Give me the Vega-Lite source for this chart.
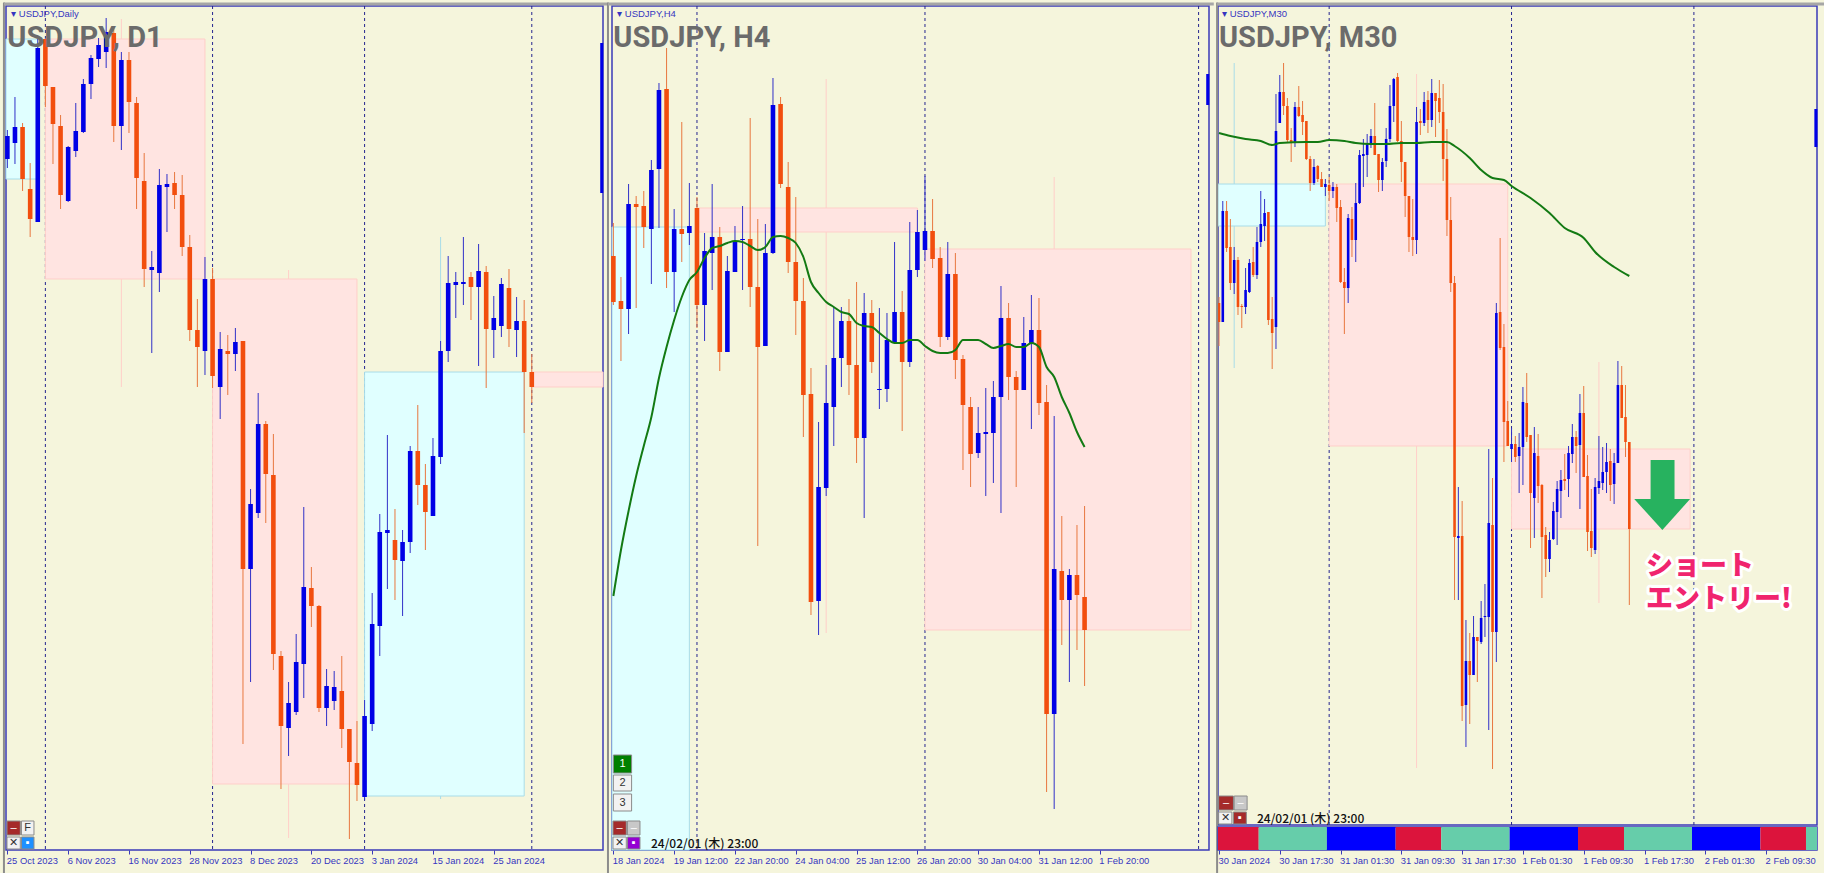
{
"$schema":"https://vega.github.io/schema/vega-lite/v6.json",
"padding":{"left":1,"top":0,"right":0,"bottom":0},
"background":"#F5F5DC",
"bounds":"flush",
"spacing":9,
"config":{"view":{"stroke":"#3A3AB8","fill":"#F5F5DC","strokeWidth":1.5},"axis":{"title":null,"grid":false,"domain":false,"tickColor":"#3A3AB8","tickSize":4,"labelColor":"#3535C0","labelFont":"Liberation Sans","labelFontSize":9.4,"labelAlign":"left","labelBaseline":"top","labelPadding":2,"labelOffset":-1,"labelOverlap":false,"labelBound":false,"labelFlush":false}},
"datasets":{
"d1":[{"i":0,"o":691,"c":714,"h":720,"l":682},{"i":1,"o":707,"c":723,"h":753,"l":686},{"i":2,"o":723,"c":671,"h":727,"l":659},{"i":3,"o":661,"c":631,"h":687,"l":613},{"i":4,"o":628,"c":802,"h":811,"l":628},{"i":5,"o":811,"c":764,"h":811,"l":743},{"i":6,"o":763,"c":726,"h":763,"l":686},{"i":7,"o":724,"c":655,"h":735,"l":641},{"i":8,"o":649,"c":703,"h":704,"l":648},{"i":9,"o":699,"c":719,"h":747,"l":693},{"i":10,"o":718,"c":766,"h":771,"l":717},{"i":11,"o":766,"c":792,"h":795,"l":751},{"i":12,"o":791,"c":805,"h":812,"l":783},{"i":13,"o":798,"c":818,"h":832,"l":782},{"i":14,"o":817,"c":724,"h":823,"l":708},{"i":15,"o":724,"c":790,"h":798,"l":700},{"i":16,"o":790,"c":748,"h":798,"l":717},{"i":17,"o":747,"c":672,"h":753,"l":641},{"i":18,"o":669,"c":581,"h":697,"l":563},{"i":19,"o":580,"c":583,"h":599,"l":497},{"i":20,"o":577,"c":665,"h":681,"l":558},{"i":21,"o":663,"c":666,"h":676,"l":618},{"i":22,"o":667,"c":655,"h":678,"l":641},{"i":23,"o":655,"c":603,"h":675,"l":594},{"i":24,"o":603,"c":520,"h":615,"l":509},{"i":25,"o":520,"c":503,"h":551,"l":463},{"i":26,"o":499,"c":571,"h":593,"l":475},{"i":27,"o":571,"c":474,"h":582,"l":462},{"i":28,"o":463,"c":501,"h":518,"l":431},{"i":29,"o":499,"c":496,"h":515,"l":455},{"i":30,"o":496,"c":508,"h":522,"l":479},{"i":31,"o":509,"c":281,"h":509,"l":106},{"i":32,"o":281,"c":346,"h":361,"l":168},{"i":33,"o":337,"c":426,"h":457,"l":332},{"i":34,"o":426,"c":376,"h":429,"l":327},{"i":35,"o":375,"c":196,"h":416,"l":180},{"i":36,"o":194,"c":124,"h":199,"l":61},{"i":37,"o":122,"c":147,"h":168,"l":94},{"i":38,"o":138,"c":188,"h":216,"l":135},{"i":39,"o":186,"c":263,"h":343,"l":152},{"i":40,"o":262,"c":244,"h":283,"l":223},{"i":41,"o":244,"c":142,"h":245,"l":138},{"i":42,"o":142,"c":164,"h":181,"l":124},{"i":43,"o":149,"c":163,"h":179,"l":140},{"i":44,"o":159,"c":121,"h":194,"l":102},{"i":45,"o":121,"c":88,"h":121,"l":11},{"i":46,"o":87,"c":65,"h":129,"l":49},{"i":47,"o":53,"c":134,"h":150,"l":50},{"i":48,"o":126,"c":226,"h":257,"l":119},{"i":49,"o":224,"c":318,"h":336,"l":194},{"i":50,"o":317,"c":320,"h":415,"l":261},{"i":51,"o":310,"c":290,"h":341,"l":250},{"i":52,"o":289,"c":308,"h":320,"l":234},{"i":53,"o":308,"c":399,"h":404,"l":297},{"i":54,"o":399,"c":365,"h":445,"l":345},{"i":55,"o":365,"c":338,"h":386,"l":300},{"i":56,"o":334,"c":394,"h":412,"l":334},{"i":57,"o":393,"c":499,"h":509,"l":386},{"i":58,"o":499,"c":567,"h":594,"l":488},{"i":59,"o":565,"c":568,"h":578,"l":532},{"i":60,"o":566,"c":568,"h":613,"l":545},{"i":61,"o":573,"c":563,"h":578,"l":530},{"i":62,"o":563,"c":579,"h":606,"l":484},{"i":63,"o":578,"c":521,"h":584,"l":462},{"i":64,"o":520,"c":532,"h":554,"l":492},{"i":65,"o":524,"c":566,"h":572,"l":513},{"i":66,"o":562,"c":521,"h":581,"l":503},{"i":67,"o":520,"c":529,"h":553,"l":493},{"i":68,"o":529,"c":478,"h":550,"l":417},{"i":69,"o":478,"c":463,"h":496,"l":447}],
"h4":[{"i":0,"o":594,"c":548,"h":627,"l":545},{"i":1,"o":549,"c":541,"h":573,"l":489},{"i":2,"o":541,"c":646,"h":666,"l":516},{"i":3,"o":646,"c":643,"h":654,"l":542},{"i":4,"o":644,"c":623,"h":659,"l":602},{"i":5,"o":621,"c":680,"h":690,"l":566},{"i":6,"o":681,"c":760,"h":767,"l":622},{"i":7,"o":761,"c":578,"h":802,"l":562},{"i":8,"o":578,"c":621,"h":641,"l":538},{"i":9,"o":621,"c":616,"h":728,"l":588},{"i":10,"o":617,"c":624,"h":667,"l":605},{"i":11,"o":642,"c":545,"h":653,"l":522},{"i":12,"o":545,"c":599,"h":617,"l":509},{"i":13,"o":597,"c":613,"h":666,"l":560},{"i":14,"o":613,"c":498,"h":623,"l":479},{"i":15,"o":498,"c":579,"h":594,"l":498},{"i":16,"o":578,"c":608,"h":624,"l":578},{"i":17,"o":610,"c":611,"h":644,"l":560},{"i":18,"o":611,"c":563,"h":732,"l":543},{"i":19,"o":563,"c":503,"h":631,"l":304},{"i":20,"o":504,"c":597,"h":626,"l":504},{"i":21,"o":597,"c":745,"h":772,"l":596},{"i":22,"o":746,"c":666,"h":753,"l":662},{"i":23,"o":663,"c":588,"h":688,"l":577},{"i":24,"o":588,"c":549,"h":653,"l":515},{"i":25,"o":549,"c":455,"h":572,"l":413},{"i":26,"o":456,"c":248,"h":482,"l":235},{"i":27,"o":249,"c":363,"h":428,"l":215},{"i":28,"o":362,"c":447,"h":485,"l":354},{"i":29,"o":443,"c":492,"h":543,"l":404},{"i":30,"o":492,"c":529,"h":543,"l":463},{"i":31,"o":529,"c":485,"h":551,"l":455},{"i":32,"o":485,"c":412,"h":568,"l":387},{"i":33,"o":412,"c":537,"h":557,"l":332},{"i":34,"o":537,"c":488,"h":550,"l":477},{"i":35,"o":460,"c":461,"h":542,"l":441},{"i":36,"o":461,"c":510,"h":537,"l":448},{"i":37,"o":508,"c":538,"h":608,"l":508},{"i":38,"o":538,"c":488,"h":559,"l":419},{"i":39,"o":488,"c":580,"h":628,"l":483},{"i":40,"o":580,"c":618,"h":640,"l":573},{"i":41,"o":600,"c":619,"h":674,"l":589},{"i":42,"o":619,"c":591,"h":651,"l":582},{"i":43,"o":592,"c":513,"h":603,"l":503},{"i":44,"o":513,"c":576,"h":608,"l":510},{"i":45,"o":576,"c":490,"h":597,"l":471},{"i":46,"o":491,"c":445,"h":495,"l":380},{"i":47,"o":443,"c":396,"h":453,"l":363},{"i":48,"o":397,"c":417,"h":443,"l":392},{"i":49,"o":416,"c":418,"h":462,"l":354},{"i":50,"o":417,"c":453,"h":469,"l":367},{"i":51,"o":453,"c":532,"h":564,"l":337},{"i":52,"o":532,"c":473,"h":547,"l":450},{"i":53,"o":473,"c":460,"h":479,"l":363},{"i":54,"o":460,"c":507,"h":533,"l":460},{"i":55,"o":507,"c":520,"h":555,"l":421},{"i":56,"o":520,"c":447,"h":552,"l":435},{"i":57,"o":448,"c":136,"h":465,"l":58},{"i":58,"o":136,"c":281,"h":434,"l":41},{"i":59,"o":279,"c":250,"h":334,"l":205},{"i":60,"o":250,"c":275,"h":281,"l":168},{"i":61,"o":275,"c":255,"h":325,"l":200},{"i":62,"o":253,"c":220,"h":344,"l":164}],
"m30":[{"i":0,"o":547,"c":528,"h":553,"l":504},{"i":1,"o":528,"c":639,"h":649,"l":528},{"i":2,"o":639,"c":602,"h":649,"l":598},{"i":3,"o":603,"c":567,"h":631,"l":560},{"i":4,"o":567,"c":590,"h":603,"l":556},{"i":5,"o":590,"c":543,"h":593,"l":535},{"i":6,"o":544,"c":543,"h":546,"l":522},{"i":7,"o":543,"c":560,"h":582,"l":536},{"i":8,"o":558,"c":587,"h":591,"l":557},{"i":9,"o":588,"c":575,"h":603,"l":573},{"i":10,"o":575,"c":608,"h":623,"l":571},{"i":11,"o":608,"c":626,"h":659,"l":603},{"i":12,"o":624,"c":637,"h":651,"l":609},{"i":13,"o":638,"c":530,"h":638,"l":525},{"i":14,"o":531,"c":517,"h":553,"l":481},{"i":15,"o":523,"c":719,"h":756,"l":501},{"i":16,"o":727,"c":758,"h":775,"l":727},{"i":17,"o":758,"c":744,"h":787,"l":735},{"i":18,"o":744,"c":710,"h":752,"l":708},{"i":19,"o":710,"c":707,"h":722,"l":688},{"i":20,"o":707,"c":743,"h":748,"l":703},{"i":21,"o":743,"c":734,"h":764,"l":733},{"i":22,"o":735,"c":728,"h":749,"l":715},{"i":23,"o":729,"c":691,"h":729,"l":690},{"i":24,"o":691,"c":667,"h":694,"l":659},{"i":25,"o":667,"c":683,"h":691,"l":665},{"i":26,"o":684,"c":671,"h":685,"l":668},{"i":27,"o":671,"c":663,"h":678,"l":663},{"i":28,"o":663,"c":666,"h":671,"l":654},{"i":29,"o":665,"c":659,"h":673,"l":649},{"i":30,"o":659,"c":663,"h":668,"l":652},{"i":31,"o":663,"c":642,"h":666,"l":628},{"i":32,"o":643,"c":568,"h":650,"l":567},{"i":33,"o":568,"c":562,"h":582,"l":516},{"i":34,"o":562,"c":632,"h":636,"l":547},{"i":35,"o":631,"c":610,"h":643,"l":593},{"i":36,"o":610,"c":647,"h":667,"l":588},{"i":37,"o":647,"c":695,"h":700,"l":646},{"i":38,"o":694,"c":696,"h":711,"l":663},{"i":39,"o":695,"c":706,"h":716,"l":673},{"i":40,"o":707,"c":714,"h":721,"l":702},{"i":41,"o":714,"c":695,"h":747,"l":695},{"i":42,"o":696,"c":670,"h":696,"l":658},{"i":43,"o":670,"c":688,"h":692,"l":659},{"i":44,"o":689,"c":711,"h":722,"l":683},{"i":45,"o":711,"c":744,"h":765,"l":708},{"i":46,"o":744,"c":771,"h":772,"l":728},{"i":47,"o":773,"c":709,"h":777,"l":708},{"i":48,"o":709,"c":688,"h":729,"l":668},{"i":49,"o":688,"c":654,"h":688,"l":633},{"i":50,"o":654,"c":613,"h":654,"l":598},{"i":51,"o":613,"c":610,"h":651,"l":594},{"i":52,"o":610,"c":728,"h":743,"l":596},{"i":53,"o":729,"c":727,"h":741,"l":715},{"i":54,"o":727,"c":748,"h":758,"l":724},{"i":55,"o":750,"c":730,"h":759,"l":717},{"i":56,"o":730,"c":757,"h":771,"l":723},{"i":57,"o":757,"c":749,"h":757,"l":713},{"i":58,"o":752,"c":738,"h":770,"l":727},{"i":59,"o":738,"c":691,"h":766,"l":669},{"i":60,"o":691,"c":630,"h":721,"l":614},{"i":61,"o":630,"c":567,"h":653,"l":558},{"i":62,"o":567,"c":313,"h":574,"l":250},{"i":63,"o":312,"c":314,"h":363,"l":250},{"i":64,"o":314,"c":144,"h":349,"l":129},{"i":65,"o":145,"c":189,"h":230,"l":103},{"i":66,"o":189,"c":175,"h":217,"l":126},{"i":67,"o":175,"c":213,"h":234,"l":175},{"i":68,"o":213,"c":209,"h":213,"l":168},{"i":69,"o":208,"c":232,"h":249,"l":206},{"i":70,"o":233,"c":234,"h":266,"l":213},{"i":71,"o":233,"c":327,"h":401,"l":120},{"i":72,"o":325,"c":218,"h":372,"l":81},{"i":73,"o":218,"c":537,"h":547,"l":188},{"i":74,"o":538,"c":502,"h":612,"l":500},{"i":75,"o":503,"c":428,"h":526,"l":388},{"i":76,"o":429,"c":404,"h":449,"l":404},{"i":77,"o":401,"c":406,"h":422,"l":388},{"i":78,"o":406,"c":393,"h":414,"l":388},{"i":79,"o":394,"c":403,"h":417,"l":357},{"i":80,"o":403,"c":448,"h":463,"l":365},{"i":81,"o":447,"c":413,"h":477,"l":408},{"i":82,"o":415,"c":357,"h":415,"l":302},{"i":83,"o":352,"c":397,"h":423,"l":312},{"i":84,"o":394,"c":364,"h":416,"l":347},{"i":85,"o":365,"c":313,"h":366,"l":252},{"i":86,"o":315,"c":291,"h":323,"l":273},{"i":87,"o":291,"c":310,"h":318,"l":278},{"i":88,"o":311,"c":339,"h":348,"l":310},{"i":89,"o":338,"c":361,"h":369,"l":305},{"i":90,"o":359,"c":370,"h":380,"l":332},{"i":91,"o":371,"c":369,"h":396,"l":360},{"i":92,"o":371,"c":397,"h":404,"l":353},{"i":93,"o":396,"c":413,"h":426,"l":387},{"i":94,"o":413,"c":404,"h":419,"l":377},{"i":95,"o":405,"c":437,"h":456,"l":341},{"i":96,"o":437,"c":373,"h":464,"l":373},{"i":97,"o":374,"c":318,"h":395,"l":299},{"i":98,"o":319,"c":302,"h":361,"l":293},{"i":99,"o":300,"c":363,"h":372,"l":296},{"i":100,"o":362,"c":369,"h":414,"l":356},{"i":101,"o":367,"c":378,"h":403,"l":360},{"i":102,"o":378,"c":388,"h":407,"l":357},{"i":103,"o":389,"c":365,"h":401,"l":349},{"i":104,"o":366,"c":387,"h":397,"l":346},{"i":105,"o":387,"c":465,"h":489,"l":387},{"i":106,"o":465,"c":432,"h":484,"l":432},{"i":107,"o":433,"c":408,"h":465,"l":393},{"i":108,"o":408,"c":321,"h":408,"l":245}],
"ma4":[{"i":0,"v":254},{"i":1,"v":300},{"i":2,"v":339},{"i":3,"v":374},{"i":4,"v":404},{"i":5,"v":433},{"i":6,"v":472},{"i":7,"v":503},{"i":8,"v":530},{"i":9,"v":553},{"i":10,"v":570},{"i":11,"v":578},{"i":12,"v":592},{"i":13,"v":602},{"i":14,"v":604},{"i":15,"v":607},{"i":16,"v":609},{"i":17,"v":608},{"i":18,"v":604},{"i":19,"v":600},{"i":20,"v":603},{"i":21,"v":613},{"i":22,"v":614},{"i":23,"v":612},{"i":24,"v":607},{"i":25,"v":593},{"i":26,"v":568},{"i":27,"v":557},{"i":28,"v":548},{"i":29,"v":543},{"i":30,"v":538},{"i":31,"v":536},{"i":32,"v":527},{"i":33,"v":524},{"i":34,"v":523},{"i":35,"v":517},{"i":36,"v":511},{"i":37,"v":507},{"i":38,"v":507},{"i":39,"v":510},{"i":40,"v":510},{"i":41,"v":504},{"i":42,"v":499},{"i":43,"v":497},{"i":44,"v":497},{"i":45,"v":500},{"i":46,"v":510},{"i":47,"v":510},{"i":48,"v":510},{"i":49,"v":506},{"i":50,"v":502},{"i":51,"v":504},{"i":52,"v":506},{"i":53,"v":503},{"i":54,"v":503},{"i":55,"v":507},{"i":56,"v":503},{"i":57,"v":483},{"i":58,"v":473},{"i":59,"v":453},{"i":60,"v":437},{"i":61,"v":418},{"i":62,"v":403}],
"ma30":[{"i":0,"v":717},{"i":3,"v":714},{"i":7,"v":711},{"i":11,"v":709},{"i":14,"v":705},{"i":16,"v":707},{"i":23,"v":708},{"i":26,"v":708},{"i":29,"v":710},{"i":33,"v":709},{"i":36,"v":707},{"i":40,"v":706},{"i":44,"v":706},{"i":48,"v":707},{"i":52,"v":707},{"i":56,"v":708},{"i":60,"v":708},{"i":62,"v":704},{"i":66,"v":692},{"i":69,"v":680},{"i":72,"v":672},{"i":75,"v":670},{"i":77,"v":664},{"i":82,"v":652},{"i":87,"v":637},{"i":91,"v":622},{"i":96,"v":612},{"i":99,"v":598},{"i":104,"v":583},{"i":108,"v":574}],
"zones":[{"p":"D1","k":"buy","a":-0.18,"b":4,"t":811,"u":671},{"p":"D1","k":"sell","a":5,"b":26,"t":811,"u":571},{"p":"D1","k":"sell","a":27,"b":46,"t":571,"u":66},{"p":"D1","k":"buy","a":47,"b":68,"t":478,"u":54},{"p":"D1","k":"sell","a":69,"b":78.37,"t":478,"u":463},{"p":"H4","k":"buy","a":-0.18,"b":10,"t":623,"u":0},{"p":"H4","k":"sell","a":11,"b":40,"t":642,"u":618},{"p":"H4","k":"sell","a":41,"b":76,"t":601,"u":220},{"p":"M30","k":"buy","a":-0.26,"b":28,"t":666,"u":624},{"p":"M30","k":"sell","a":29,"b":76,"t":666,"u":404},{"p":"M30","k":"sell","a":77,"b":124,"t":401,"u":321}],
"zoneWicks":[{"p":"D1","k":"sell","i":15,"h":831,"l":463},{"p":"D1","k":"sell","i":37,"h":580,"l":12},{"p":"D1","k":"buy","i":57,"h":613,"l":51},{"p":"H4","k":"sell","i":28,"h":771,"l":217},{"p":"H4","k":"sell","i":58,"h":673,"l":220},{"p":"M30","k":"buy","i":4,"h":787,"l":482},{"p":"M30","k":"sell","i":52,"h":776,"l":82},{"p":"M30","k":"sell","i":100,"h":488,"l":247}],
"seps":[{"p":"D1","i":5},{"p":"D1","i":27},{"p":"D1","i":47},{"p":"D1","i":69},{"p":"H4","i":11},{"p":"H4","i":41},{"p":"H4","i":77},{"p":"M30","i":29},{"p":"M30","i":77},{"p":"M30","i":125}],
"edges":[{"p":"D1","i":78.2,"h":807,"l":657},{"p":"H4","i":78.2,"h":776,"l":745},{"p":"M30","i":157.1,"h":741,"l":703}],
"frames":[{"p":"D1","i":-0.45,"l":-25,"h":847.5},{"p":"H4","i":-0.71,"l":-25,"h":847.5},{"p":"M30","i":-0.5,"l":-25,"h":847.5}],
"tops":[{"p":"D1","a":-0.45,"b":79,"v":846},{"p":"H4","a":-0.71,"b":79,"v":846},{"p":"M30","a":-0.5,"b":159.7,"v":846}],
"texts":[{"p":"D1","kind":"title","i":0,"v":812,"t":"USDJPY, D1"},{"p":"H4","kind":"title","i":0,"v":812,"t":"USDJPY, H4"},{"p":"M30","kind":"title","i":0,"v":812,"t":"USDJPY, M30"},{"p":"D1","kind":"small","i":0.5,"v":836,"t":"▾ USDJPY,Daily"},{"p":"H4","kind":"small","i":0.5,"v":836,"t":"▾ USDJPY,H4"},{"p":"M30","kind":"small","i":0.8,"v":836,"t":"▾ USDJPY,M30"},{"p":"H4","kind":"clock","i":4.95,"v":6,"t":"24/02/01 (木) 23:00"},{"p":"M30","kind":"clock","i":10,"v":31,"t":"24/02/01 (木) 23:00"}],
"btns":[{"p":"D1","k":"red","a":-0.05,"b":1.7,"t":29,"u":15,"g":"–"},{"p":"D1","k":"white","a":1.85,"b":3.5,"t":29,"u":15,"g":"F"},{"p":"D1","k":"white","a":-0.05,"b":1.7,"t":13,"u":1,"g":"✕"},{"p":"D1","k":"azure","a":1.85,"b":3.5,"t":13,"u":1,"g":"▪"},{"p":"H4","k":"red","a":-0.05,"b":1.7,"t":29,"u":15,"g":"–"},{"p":"H4","k":"grey","a":1.85,"b":3.5,"t":29,"u":15,"g":"–"},{"p":"H4","k":"white","a":-0.05,"b":1.7,"t":13,"u":1,"g":"✕"},{"p":"H4","k":"purple","a":1.85,"b":3.5,"t":13,"u":1,"g":"▪"},{"p":"H4","k":"green","a":0,"b":2.4,"t":95,"u":77,"g":"1"},{"p":"H4","k":"white","a":0,"b":2.4,"t":75,"u":59,"g":"2"},{"p":"H4","k":"white","a":0,"b":2.4,"t":56,"u":39,"g":"3"},{"p":"M30","k":"red","a":-0.1,"b":3.8,"t":54,"u":40,"g":"–"},{"p":"M30","k":"grey","a":4,"b":7.4,"t":54,"u":40,"g":"–"},{"p":"M30","k":"white","a":-0.1,"b":3.4,"t":38,"u":26,"g":"✕"},{"p":"M30","k":"red","a":3.8,"b":7.2,"t":38,"u":26,"g":"▪"}],
"sessions":[{"s":"Tokyo","a":-0.26,"b":10.45},{"s":"London","a":10.45,"b":28.4},{"s":"NewYork","a":28.4,"b":46.5},{"s":"Tokyo","a":46.5,"b":58.5},{"s":"London","a":58.5,"b":76.5},{"s":"NewYork","a":76.5,"b":94.5},{"s":"Tokyo","a":94.5,"b":106.6},{"s":"London","a":106.6,"b":124.5},{"s":"NewYork","a":124.5,"b":142.5},{"s":"Tokyo","a":142.5,"b":154.5},{"s":"London","a":154.5,"b":157.4}],
"shaft":[{"a":113.6,"b":119.9,"t":390,"u":351}],
"head":[{"i":109.3,"t":351,"u":351},{"i":116.7,"t":351,"u":320},{"i":124,"t":351,"u":351}],
"entry":[{"i":112.4,"v":283,"t":"ショート"},{"i":112.4,"v":250,"t":"エントリー!"}]
},
"hconcat":[
{"width":597,"height":844,"layer":[
{"data":{"name":"seps"},"transform":[{"filter":"datum.p=='D1'"}],"mark":{"type":"rule","strokeDash":[3,3],"color":"#25258F","strokeWidth":1},"encoding":{"x":{"field":"i","type":"quantitative","scale":{"domain":[-0.18,78.37],"nice":false,"zero":false,"padding":0},"axis":{"values":[0,8,16,24,32,40,48,56,64],"labelExpr":"{'0':'25 Oct 2023','8':'6 Nov 2023','16':'16 Nov 2023','24':'28 Nov 2023','32':'8 Dec 2023','40':'20 Dec 2023','48':'3 Jan 2024','56':'15 Jan 2024','64':'25 Jan 2024'}[datum.value]"}}}},
{"data":{"name":"zoneWicks"},"transform":[{"filter":"datum.p=='D1'"}],"mark":{"type":"rule","strokeWidth":1},"encoding":{"x":{"field":"i","type":"quantitative"},"y":{"field":"l","type":"quantitative","scale":{"domain":[0,844],"nice":false,"zero":false},"axis":null},"y2":{"field":"h"},"color":{"condition":{"test":"datum.k=='sell'","value":"#FFCFC9"},"value":"#A8DCE8"}}},
{"data":{"name":"zones"},"transform":[{"filter":"datum.p=='D1'"}],"mark":{"type":"rect","strokeWidth":1},"encoding":{"x":{"field":"a","type":"quantitative"},"x2":{"field":"b"},"y":{"field":"t","type":"quantitative"},"y2":{"field":"u"},"fill":{"condition":{"test":"datum.k=='sell'","value":"#FFE4E1"},"value":"#E0FFFF"},"stroke":{"condition":{"test":"datum.k=='sell'","value":"#FFCFC9"},"value":"#A8DCE8"}}},
{"data":{"name":"d1"},"mark":{"type":"rule","strokeWidth":1},"encoding":{"x":{"field":"i","type":"quantitative"},"y":{"field":"l","type":"quantitative"},"y2":{"field":"h"},"color":{"condition":{"test":"datum.c>=datum.o","value":"#3030C8"},"value":"#E8773F"}}},
{"data":{"name":"d1"},"mark":{"type":"bar","orient":"vertical","size":4.6},"encoding":{"x":{"field":"i","type":"quantitative"},"y":{"field":"o","type":"quantitative"},"y2":{"field":"c"},"color":{"condition":{"test":"datum.c>=datum.o","value":"#0000E6"},"value":"#F24E0E"}}},
{"data":{"name":"edges"},"transform":[{"filter":"datum.p=='D1'"}],"mark":{"type":"rule","strokeWidth":3,"color":"#0000E6"},"encoding":{"x":{"field":"i","type":"quantitative"},"y":{"field":"l","type":"quantitative"},"y2":{"field":"h"}}},
{"data":{"name":"frames"},"transform":[{"filter":"datum.p=='D1'"}],"mark":{"type":"rule","strokeWidth":2,"color":"#8C8C8C"},"encoding":{"x":{"field":"i","type":"quantitative"},"y":{"field":"l","type":"quantitative"},"y2":{"field":"h"}}},
{"data":{"name":"tops"},"transform":[{"filter":"datum.p=='D1'"}],"mark":{"type":"rule","strokeWidth":3,"color":"#A6A6A6"},"encoding":{"x":{"field":"a","type":"quantitative"},"x2":{"field":"b"},"y":{"field":"v","type":"quantitative"}}},
{"data":{"name":"btns"},"transform":[{"filter":"datum.p=='D1'"}],"mark":{"type":"rect","stroke":"#8A8A8A","strokeWidth":1},"encoding":{"x":{"field":"a","type":"quantitative"},"x2":{"field":"b"},"y":{"field":"t","type":"quantitative"},"y2":{"field":"u"},"fill":{"field":"k","type":"nominal","legend":null,"scale":{"domain":["red","grey","white","azure","purple","green"],"range":["#A52A2A","#C8C8C8","#F2F2F2","#1E90FF","#9400D3","#008000"]}}}},
{"data":{"name":"btns"},"transform":[{"filter":"datum.p=='D1'"},{"calculate":"(datum.a+datum.b)/2","as":"m"},{"calculate":"(datum.t+datum.u)/2","as":"w"}],"mark":{"type":"text","fontSize":11,"font":"Liberation Sans","baseline":"middle","align":"center"},"encoding":{"x":{"field":"m","type":"quantitative"},"y":{"field":"w","type":"quantitative"},"text":{"field":"g"},"color":{"condition":{"test":"datum.k=='white'","value":"#333333"},"value":"#FFFFFF"}}},
{"data":{"name":"texts"},"transform":[{"filter":"datum.p=='D1' && datum.kind=='small'"}],"mark":{"type":"text","font":"Liberation Sans","fontSize":9.5,"align":"left","baseline":"middle","color":"#3535C0"},"encoding":{"x":{"field":"i","type":"quantitative"},"y":{"field":"v","type":"quantitative"},"text":{"field":"t"}}},
{"data":{"name":"texts"},"transform":[{"filter":"datum.p=='D1' && datum.kind=='title'"}],"mark":{"type":"text","font":"Roboto","fontWeight":"bold","fontSize":29,"align":"left","baseline":"middle","color":"#6B6B6B"},"encoding":{"x":{"field":"i","type":"quantitative"},"y":{"field":"v","type":"quantitative"},"text":{"field":"t"}}}
]},
{"width":597,"height":844,"layer":[
{"data":{"name":"seps"},"transform":[{"filter":"datum.p=='H4'"}],"mark":{"type":"rule","strokeDash":[3,3],"color":"#25258F","strokeWidth":1},"encoding":{"x":{"field":"i","type":"quantitative","scale":{"domain":[-0.18,78.37],"nice":false,"zero":false,"padding":0},"axis":{"values":[0,8,16,24,32,40,48,56,64],"labelExpr":"{'0':'18 Jan 2024','8':'19 Jan 12:00','16':'22 Jan 20:00','24':'24 Jan 04:00','32':'25 Jan 12:00','40':'26 Jan 20:00','48':'30 Jan 04:00','56':'31 Jan 12:00','64':'1 Feb 20:00'}[datum.value]"}}}},
{"data":{"name":"zoneWicks"},"transform":[{"filter":"datum.p=='H4'"}],"mark":{"type":"rule","strokeWidth":1},"encoding":{"x":{"field":"i","type":"quantitative"},"y":{"field":"l","type":"quantitative","scale":{"domain":[0,844],"nice":false,"zero":false},"axis":null},"y2":{"field":"h"},"color":{"condition":{"test":"datum.k=='sell'","value":"#FFCFC9"},"value":"#A8DCE8"}}},
{"data":{"name":"zones"},"transform":[{"filter":"datum.p=='H4'"}],"mark":{"type":"rect","strokeWidth":1},"encoding":{"x":{"field":"a","type":"quantitative"},"x2":{"field":"b"},"y":{"field":"t","type":"quantitative"},"y2":{"field":"u"},"fill":{"condition":{"test":"datum.k=='sell'","value":"#FFE4E1"},"value":"#E0FFFF"},"stroke":{"condition":{"test":"datum.k=='sell'","value":"#FFCFC9"},"value":"#A8DCE8"}}},
{"data":{"name":"h4"},"mark":{"type":"rule","strokeWidth":1},"encoding":{"x":{"field":"i","type":"quantitative"},"y":{"field":"l","type":"quantitative"},"y2":{"field":"h"},"color":{"condition":{"test":"datum.c>=datum.o","value":"#3030C8"},"value":"#E8773F"}}},
{"data":{"name":"h4"},"mark":{"type":"bar","orient":"vertical","size":4.6},"encoding":{"x":{"field":"i","type":"quantitative"},"y":{"field":"o","type":"quantitative"},"y2":{"field":"c"},"color":{"condition":{"test":"datum.c>=datum.o","value":"#0000E6"},"value":"#F24E0E"}}},
{"data":{"name":"ma4"},"mark":{"type":"line","color":"#137A13","strokeWidth":2,"interpolate":"monotone"},"encoding":{"x":{"field":"i","type":"quantitative"},"y":{"field":"v","type":"quantitative"}}},
{"data":{"name":"edges"},"transform":[{"filter":"datum.p=='H4'"}],"mark":{"type":"rule","strokeWidth":3,"color":"#0000E6"},"encoding":{"x":{"field":"i","type":"quantitative"},"y":{"field":"l","type":"quantitative"},"y2":{"field":"h"}}},
{"data":{"name":"frames"},"transform":[{"filter":"datum.p=='H4'"}],"mark":{"type":"rule","strokeWidth":2,"color":"#8C8C8C"},"encoding":{"x":{"field":"i","type":"quantitative"},"y":{"field":"l","type":"quantitative"},"y2":{"field":"h"}}},
{"data":{"name":"tops"},"transform":[{"filter":"datum.p=='H4'"}],"mark":{"type":"rule","strokeWidth":3,"color":"#A6A6A6"},"encoding":{"x":{"field":"a","type":"quantitative"},"x2":{"field":"b"},"y":{"field":"v","type":"quantitative"}}},
{"data":{"name":"btns"},"transform":[{"filter":"datum.p=='H4'"}],"mark":{"type":"rect","stroke":"#8A8A8A","strokeWidth":1},"encoding":{"x":{"field":"a","type":"quantitative"},"x2":{"field":"b"},"y":{"field":"t","type":"quantitative"},"y2":{"field":"u"},"fill":{"field":"k","type":"nominal","legend":null,"scale":{"domain":["red","grey","white","azure","purple","green"],"range":["#A52A2A","#C8C8C8","#F2F2F2","#1E90FF","#9400D3","#008000"]}}}},
{"data":{"name":"btns"},"transform":[{"filter":"datum.p=='H4'"},{"calculate":"(datum.a+datum.b)/2","as":"m"},{"calculate":"(datum.t+datum.u)/2","as":"w"}],"mark":{"type":"text","fontSize":11,"font":"Liberation Sans","baseline":"middle","align":"center"},"encoding":{"x":{"field":"m","type":"quantitative"},"y":{"field":"w","type":"quantitative"},"text":{"field":"g"},"color":{"condition":{"test":"datum.k=='white'","value":"#333333"},"value":"#FFFFFF"}}},
{"data":{"name":"texts"},"transform":[{"filter":"datum.p=='H4' && datum.kind=='small'"}],"mark":{"type":"text","font":"Liberation Sans","fontSize":9.5,"align":"left","baseline":"middle","color":"#3535C0"},"encoding":{"x":{"field":"i","type":"quantitative"},"y":{"field":"v","type":"quantitative"},"text":{"field":"t"}}},
{"data":{"name":"texts"},"transform":[{"filter":"datum.p=='H4' && datum.kind=='clock'"}],"mark":{"type":"text","font":"Noto Sans CJK JP","fontSize":12,"fontWeight":500,"align":"left","baseline":"middle","color":"#111111"},"encoding":{"x":{"field":"i","type":"quantitative"},"y":{"field":"v","type":"quantitative"},"text":{"field":"t"}}},
{"data":{"name":"texts"},"transform":[{"filter":"datum.p=='H4' && datum.kind=='title'"}],"mark":{"type":"text","font":"Roboto","fontWeight":"bold","fontSize":29,"align":"left","baseline":"middle","color":"#6B6B6B"},"encoding":{"x":{"field":"i","type":"quantitative"},"y":{"field":"v","type":"quantitative"},"text":{"field":"t"}}}
]},
{"bounds":"flush","spacing":2,"vconcat":[
{"width":599,"height":819,"layer":[
{"data":{"name":"seps"},"transform":[{"filter":"datum.p=='M30'"}],"mark":{"type":"rule","strokeDash":[3,3],"color":"#25258F","strokeWidth":1},"encoding":{"x":{"field":"i","type":"quantitative","scale":{"domain":[-0.26,157.4],"nice":false,"zero":false,"padding":0},"axis":null}}},
{"data":{"name":"zoneWicks"},"transform":[{"filter":"datum.p=='M30'"}],"mark":{"type":"rule","strokeWidth":1},"encoding":{"x":{"field":"i","type":"quantitative"},"y":{"field":"l","type":"quantitative","scale":{"domain":[25,844],"nice":false,"zero":false},"axis":null},"y2":{"field":"h"},"color":{"condition":{"test":"datum.k=='sell'","value":"#FFCFC9"},"value":"#A8DCE8"}}},
{"data":{"name":"zones"},"transform":[{"filter":"datum.p=='M30'"}],"mark":{"type":"rect","strokeWidth":1},"encoding":{"x":{"field":"a","type":"quantitative"},"x2":{"field":"b"},"y":{"field":"t","type":"quantitative"},"y2":{"field":"u"},"fill":{"condition":{"test":"datum.k=='sell'","value":"#FFE4E1"},"value":"#E0FFFF"},"stroke":{"condition":{"test":"datum.k=='sell'","value":"#FFCFC9"},"value":"#A8DCE8"}}},
{"data":{"name":"m30"},"mark":{"type":"rule","strokeWidth":1},"encoding":{"x":{"field":"i","type":"quantitative"},"y":{"field":"l","type":"quantitative"},"y2":{"field":"h"},"color":{"condition":{"test":"datum.c>=datum.o","value":"#3030C8"},"value":"#E8773F"}}},
{"data":{"name":"m30"},"mark":{"type":"bar","orient":"vertical","size":2.6},"encoding":{"x":{"field":"i","type":"quantitative"},"y":{"field":"o","type":"quantitative"},"y2":{"field":"c"},"color":{"condition":{"test":"datum.c>=datum.o","value":"#0000E6"},"value":"#F24E0E"}}},
{"data":{"name":"ma30"},"mark":{"type":"line","color":"#137A13","strokeWidth":2,"interpolate":"monotone"},"encoding":{"x":{"field":"i","type":"quantitative"},"y":{"field":"v","type":"quantitative"}}},
{"data":{"name":"edges"},"transform":[{"filter":"datum.p=='M30'"}],"mark":{"type":"rule","strokeWidth":3,"color":"#0000E6"},"encoding":{"x":{"field":"i","type":"quantitative"},"y":{"field":"l","type":"quantitative"},"y2":{"field":"h"}}},
{"data":{"name":"frames"},"transform":[{"filter":"datum.p=='M30'"}],"mark":{"type":"rule","strokeWidth":2,"color":"#8C8C8C"},"encoding":{"x":{"field":"i","type":"quantitative"},"y":{"field":"l","type":"quantitative"},"y2":{"field":"h"}}},
{"data":{"name":"tops"},"transform":[{"filter":"datum.p=='M30'"}],"mark":{"type":"rule","strokeWidth":3,"color":"#A6A6A6"},"encoding":{"x":{"field":"a","type":"quantitative"},"x2":{"field":"b"},"y":{"field":"v","type":"quantitative"}}},
{"data":{"name":"btns"},"transform":[{"filter":"datum.p=='M30'"}],"mark":{"type":"rect","stroke":"#8A8A8A","strokeWidth":1},"encoding":{"x":{"field":"a","type":"quantitative"},"x2":{"field":"b"},"y":{"field":"t","type":"quantitative"},"y2":{"field":"u"},"fill":{"field":"k","type":"nominal","legend":null,"scale":{"domain":["red","grey","white","azure","purple","green"],"range":["#A52A2A","#C8C8C8","#F2F2F2","#1E90FF","#9400D3","#008000"]}}}},
{"data":{"name":"btns"},"transform":[{"filter":"datum.p=='M30'"},{"calculate":"(datum.a+datum.b)/2","as":"m"},{"calculate":"(datum.t+datum.u)/2","as":"w"}],"mark":{"type":"text","fontSize":11,"font":"Liberation Sans","baseline":"middle","align":"center"},"encoding":{"x":{"field":"m","type":"quantitative"},"y":{"field":"w","type":"quantitative"},"text":{"field":"g"},"color":{"condition":{"test":"datum.k=='white'","value":"#333333"},"value":"#FFFFFF"}}},
{"data":{"name":"shaft"},"mark":{"type":"rect","color":"#27B25F"},"encoding":{"x":{"field":"a","type":"quantitative"},"x2":{"field":"b"},"y":{"field":"t","type":"quantitative"},"y2":{"field":"u"}}},
{"data":{"name":"head"},"mark":{"type":"area","color":"#27B25F"},"encoding":{"x":{"field":"i","type":"quantitative"},"y":{"field":"t","type":"quantitative"},"y2":{"field":"u"}}},
{"data":{"name":"entry"},"mark":{"type":"text","font":"Noto Sans CJK JP","fontWeight":900,"fontSize":27,"align":"left","baseline":"middle","color":"#FFFFFF","stroke":"#FFFFFF","strokeWidth":6,"strokeJoin":"round"},"encoding":{"x":{"field":"i","type":"quantitative"},"y":{"field":"v","type":"quantitative"},"text":{"field":"t"}}},
{"data":{"name":"entry"},"mark":{"type":"text","font":"Noto Sans CJK JP","fontWeight":900,"fontSize":27,"align":"left","baseline":"middle","color":"#F0246E"},"encoding":{"x":{"field":"i","type":"quantitative"},"y":{"field":"v","type":"quantitative"},"text":{"field":"t"}}},
{"data":{"name":"texts"},"transform":[{"filter":"datum.p=='M30' && datum.kind=='small'"}],"mark":{"type":"text","font":"Liberation Sans","fontSize":9.5,"align":"left","baseline":"middle","color":"#3535C0"},"encoding":{"x":{"field":"i","type":"quantitative"},"y":{"field":"v","type":"quantitative"},"text":{"field":"t"}}},
{"data":{"name":"texts"},"transform":[{"filter":"datum.p=='M30' && datum.kind=='clock'"}],"mark":{"type":"text","font":"Noto Sans CJK JP","fontSize":12,"fontWeight":500,"align":"left","baseline":"middle","color":"#111111"},"encoding":{"x":{"field":"i","type":"quantitative"},"y":{"field":"v","type":"quantitative"},"text":{"field":"t"}}},
{"data":{"name":"texts"},"transform":[{"filter":"datum.p=='M30' && datum.kind=='title'"}],"mark":{"type":"text","font":"Roboto","fontWeight":"bold","fontSize":29,"align":"left","baseline":"middle","color":"#6B6B6B"},"encoding":{"x":{"field":"i","type":"quantitative"},"y":{"field":"v","type":"quantitative"},"text":{"field":"t"}}}
]},
{"width":599,"height":23,"data":{"name":"sessions"},"mark":{"type":"rect"},"encoding":{"x":{"field":"a","type":"quantitative","scale":{"domain":[-0.26,157.4],"nice":false,"zero":false,"padding":0},"axis":{"values":[0,16,32,48,64,80,96,112,128,144],"labelExpr":"{'0':'30 Jan 2024','16':'30 Jan 17:30','32':'31 Jan 01:30','48':'31 Jan 09:30','64':'31 Jan 17:30','80':'1 Feb 01:30','96':'1 Feb 09:30','112':'1 Feb 17:30','128':'2 Feb 01:30','144':'2 Feb 09:30'}[datum.value]"}},"x2":{"field":"b"},"color":{"field":"s","type":"nominal","legend":null,"scale":{"domain":["Tokyo","London","NewYork"],"range":["#DC143C","#66CDAA","#0000FF"]}}}}
]}
]
}
